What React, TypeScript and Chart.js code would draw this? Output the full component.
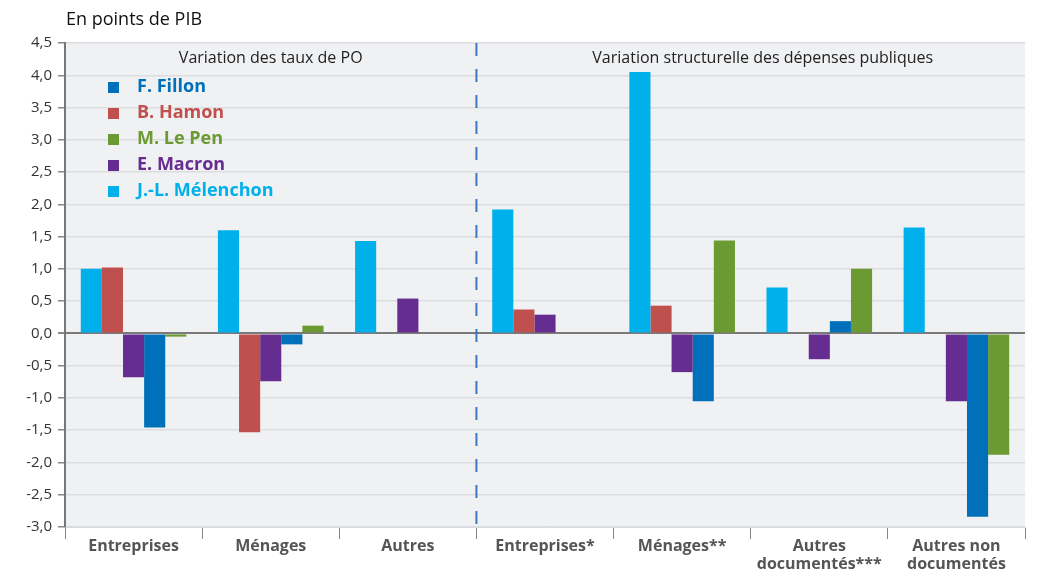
import React, { useEffect, useRef } from "react";
import { Chart, registerables } from "chart.js";

Chart.register(...registerables);

const categories: (string | string[])[] = [
  "Entreprises",
  "Ménages",
  "Autres",
  "Entreprises*",
  "Ménages**",
  ["Autres", "documentés***"],
  ["Autres non", "documentés"],
];

const melenchon = [1.0, 1.6, 1.43, 1.92, 4.05, 0.71, 1.64];
const hamon = [1.02, -1.53, null, 0.37, 0.43, null, null];
const macron = [-0.68, -0.74, 0.54, 0.29, -0.6, -0.4, -1.05];
const fillon = [-1.46, -0.17, null, null, -1.05, 0.19, -2.84];
const lepen = [-0.05, 0.12, null, null, 1.44, 1.0, -1.88];

const legendOrder = ["F. Fillon", "B. Hamon", "M. Le Pen", "E. Macron", "J.-L. Mélenchon"];
const sectionTitles = ["Variation des taux de PO", "Variation structurelle des dépenses publiques"];
const yTitle = "En points de PIB";

const COLORS: Record<string, string> = {
  "F. Fillon": "#0070ba",
  "B. Hamon": "#c0504d",
  "M. Le Pen": "#6a9a31",
  "E. Macron": "#662d91",
  "J.-L. Mélenchon": "#00b0eb",
};

const FONT = "'Open Sans', 'DejaVu Sans', sans-serif";

export default function App() {
  const ref = useRef<HTMLCanvasElement>(null);
  useEffect(() => {
    document.body.style.margin = "0";
    const overlay = {
      id: "overlay",
      beforeDraw(chart: any) {
        const { ctx, chartArea } = chart;
        ctx.save();
        ctx.fillStyle = "#f0f1f3";
        ctx.fillRect(chartArea.left, chartArea.top, chartArea.right - chartArea.left, chartArea.bottom - chartArea.top);
        ctx.restore();
      },
      afterDatasetsDraw(chart: any) {
        const { ctx, chartArea, scales } = chart;
        const x = scales.x;
        ctx.save();
        // dashed separator
        const sx = (x.getPixelForValue(2) + x.getPixelForValue(3)) / 2;
        ctx.strokeStyle = "#3b78c3";
        ctx.lineWidth = 2;
        ctx.setLineDash([13, 13]);
        ctx.beginPath();
        ctx.moveTo(sx, chartArea.top);
        ctx.lineTo(sx, chartArea.bottom);
        ctx.stroke();
        ctx.setLineDash([]);
        // section titles
        ctx.fillStyle = "#222";
        ctx.font = `16px ${FONT}`;
        ctx.textAlign = "center";
        ctx.textBaseline = "middle";
        ctx.fillText(sectionTitles[0], (chartArea.left + sx) / 2, 58);
        ctx.fillText(sectionTitles[1], (sx + chartArea.right) / 2 + 12, 58);
        // y title
        ctx.textAlign = "left";
        ctx.font = `18px ${FONT}`;
        ctx.fillStyle = "#111";
        ctx.fillText(yTitle, 66, 20);
        // legend
        ctx.font = `bold 18px ${FONT}`;
        legendOrder.forEach((name, i) => {
          const y = 87 + i * 26;
          ctx.fillStyle = COLORS[name];
          ctx.fillRect(108, y - 5, 11, 11);
          ctx.fillText(name, 137, y);
        });
        ctx.restore();
      },
    };
    const mk = (label: string, data: (number | null)[]) => ({
      label,
      data,
      backgroundColor: COLORS[label],
      borderWidth: 0,
      categoryPercentage: 0.77,
      barPercentage: 1.0,
    });
    const chart = new Chart(ref.current!, {
      type: "bar",
      data: {
        labels: categories,
        datasets: [
          mk("J.-L. Mélenchon", melenchon),
          mk("B. Hamon", hamon),
          mk("E. Macron", macron),
          mk("F. Fillon", fillon),
          mk("M. Le Pen", lepen),
        ],
      },
      options: {
        responsive: false,
        animation: false,
        layout: { padding: { top: 43, right: 12, left: 0, bottom: 0 } },
        plugins: { legend: { display: false }, tooltip: { enabled: false } },
        scales: {
          x: {
            grid: {
              offset: true,
              drawOnChartArea: false,
              drawTicks: true,
              tickLength: 12,
              color: "#888",
            },
            border: { color: "#d8d9dc", width: 1 },
            ticks: {
              color: "#555",
              font: { family: FONT, size: 16, weight: "bold", lineHeight: 1.1 },
              padding: -1,
              maxRotation: 0,
              autoSkip: false,
            },
            afterFit(s: any) {
              s.height = 47;
            },
          },
          y: {
            min: -3,
            max: 4.5,
            ticks: {
              stepSize: 0.5,
              color: "#333",
              font: { family: FONT, size: 15 },
              padding: 6,
              callback: (v: any) => Number(v).toFixed(1).replace(".", ","),
            },
            grid: {
              color: (c: any) => (c.tick && c.tick.value === 0 ? "#7a7a7a" : "#dcdde0"),
              lineWidth: (c: any) => (c.tick && c.tick.value === 0 ? 2 : 1.5),
              tickColor: "#888",
              tickLength: 7,
            },
            border: { color: "#777", width: 2 },
            afterFit(s: any) {
              s.width = 65;
            },
          },
        },
      },
      plugins: [overlay],
    });
    return () => chart.destroy();
  }, []);
  return (
    <div style={{ width: 1037, height: 574 }}>
      <canvas ref={ref} width={1037} height={574} />
    </div>
  );
}
